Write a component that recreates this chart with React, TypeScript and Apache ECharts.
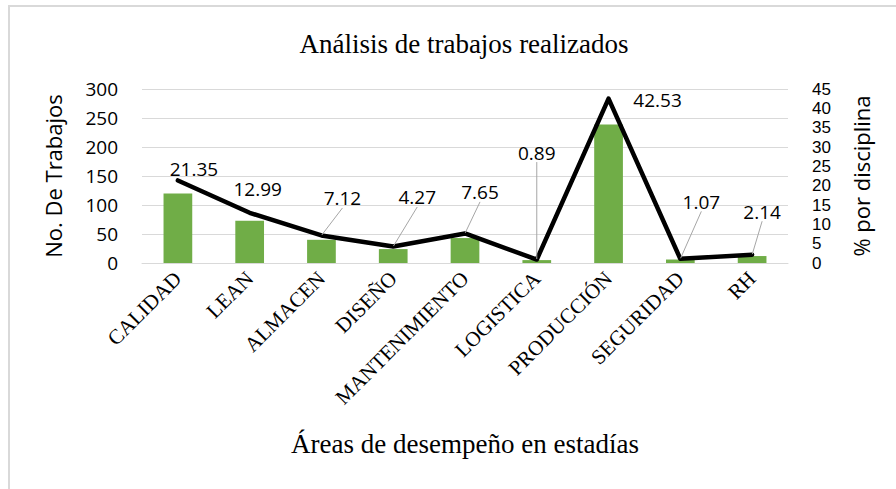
import React, { useEffect, useRef } from "react";
import * as echarts from "echarts";

const categories = ["CALIDAD", "LEAN", "ALMACEN", "DISEÑO", "MANTENIMIENTO", "LOGISTICA", "PRODUCCIÓN", "SEGURIDAD", "RH"];
const trabajos = [120, 73, 40, 24, 43, 5, 239, 6, 12];
const porcentaje = [21.35, 12.99, 7.12, 4.27, 7.65, 0.89, 42.53, 1.07, 2.14];
const leftTicks = { min: 0, max: 300, interval: 50 };
const rightTicks = { min: 0, max: 45, interval: 5 };

// label offsets (styling only)
const labelOffsets: [number, number][] = [
  [16, -11], [8, -24], [21, -37], [24, -49], [15, -41], [0, -107], [49, 1], [21, -57], [10, -43],
];
const showLeader = [false, false, true, true, true, true, false, true, true];

const SANS = "'Open Sans', 'Noto Sans', sans-serif";
const SANS_TIGHT = "'Liberation Sans', Arial, sans-serif";
const SERIF = "'Liberation Serif', 'DejaVu Serif', serif";

export default function App() {
  const ref = useRef<HTMLDivElement>(null);
  useEffect(() => {
    if (!ref.current) return;
    const chart = echarts.init(ref.current, null, { renderer: "svg" });
    chart.setOption({
      animation: false,
      backgroundColor: "#fff",
      title: {
        text: "Análisis de trabajos realizados",
        left: 459,
        top: 25,
        textAlign: "center",
        textStyle: { fontFamily: SERIF, fontSize: 27, fontWeight: "normal", color: "#000" },
      },
      graphic: [
        { type: "line", shape: { x1: 9, y1: 5, x2: 9, y2: 489 }, style: { stroke: "#d9d9d9", lineWidth: 2 } },
        { type: "line", shape: { x1: 8, y1: 6, x2: 896, y2: 6 }, style: { stroke: "#d9d9d9", lineWidth: 2 } },
      ],
      grid: { left: 142, right: 108, top: 89, bottom: 226, containLabel: false },
      xAxis: {
        type: "category",
        data: categories,
        name: "Áreas de desempeño en estadías",
        nameLocation: "middle",
        nameGap: 167,
        nameTextStyle: { fontFamily: SERIF, fontSize: 27, color: "#000" },
        axisLine: { show: true, lineStyle: { color: "#d9d9d9", width: 1 } },
        axisTick: { show: false },
        axisLabel: {
          rotate: 45,
          interval: 0,
          margin: 12,
          fontFamily: SERIF,
          fontSize: 21,
          color: "#000",
        },
      },
      yAxis: [
        {
          type: "value",
          ...leftTicks,
          name: "No. De Trabajos",
          nameLocation: "middle",
          nameGap: 78,
          nameRotate: 90,
          nameTextStyle: { fontFamily: SANS, fontSize: 22, color: "#000" },
          axisLine: { show: false },
          axisTick: { show: false },
          axisLabel: { fontFamily: SANS, fontSize: 19, color: "#000", margin: 24 },
          splitLine: { lineStyle: { color: "#d9d9d9", width: 1 } },
        },
        {
          type: "value",
          ...rightTicks,
          position: "right",
          name: "% por disciplina",
          nameLocation: "middle",
          nameGap: 62,
          nameRotate: 90,
          nameTextStyle: { fontFamily: SANS, fontSize: 22, color: "#000" },
          axisLine: { show: false },
          axisTick: { show: false },
          axisLabel: { fontFamily: SANS_TIGHT, fontSize: 17, color: "#000", margin: 24, lineHeight: 17 },
          splitLine: { show: false },
        },
      ],
      series: [
        {
          type: "bar",
          yAxisIndex: 0,
          data: trabajos,
          barWidth: "40%",
          itemStyle: { color: "#70ad47" },
        },
        {
          type: "line",
          yAxisIndex: 1,
          data: porcentaje.map((v, i) => ({
            value: v,
            labelLine: { show: showLeader[i] },
          })),
          symbol: "circle",
          symbolSize: 1,
          showSymbol: true,
          itemStyle: { color: "#000" },
          lineStyle: { color: "#000", width: 4.5, join: "round", cap: "round" },
          label: {
            show: true,
            position: "inside",
            formatter: (p: any) => p.value.toFixed(2),
            fontFamily: SANS,
            fontSize: 19,
            color: "#000",
          },
          labelLine: { show: true, lineStyle: { color: "#a6a6a6", width: 1 } },
          labelLayout: (p: any) => {
            const o = labelOffsets[p.dataIndex] || [0, 0];
            return { dx: o[0], dy: o[1] };
          },
          z: 3,
        },
      ],
    });
    return () => chart.dispose();
  }, []);
  return (
    <div
      ref={ref}
      style={{ position: "absolute", left: 0, top: 0, width: 896, height: 489 }}
    />
  );
}
